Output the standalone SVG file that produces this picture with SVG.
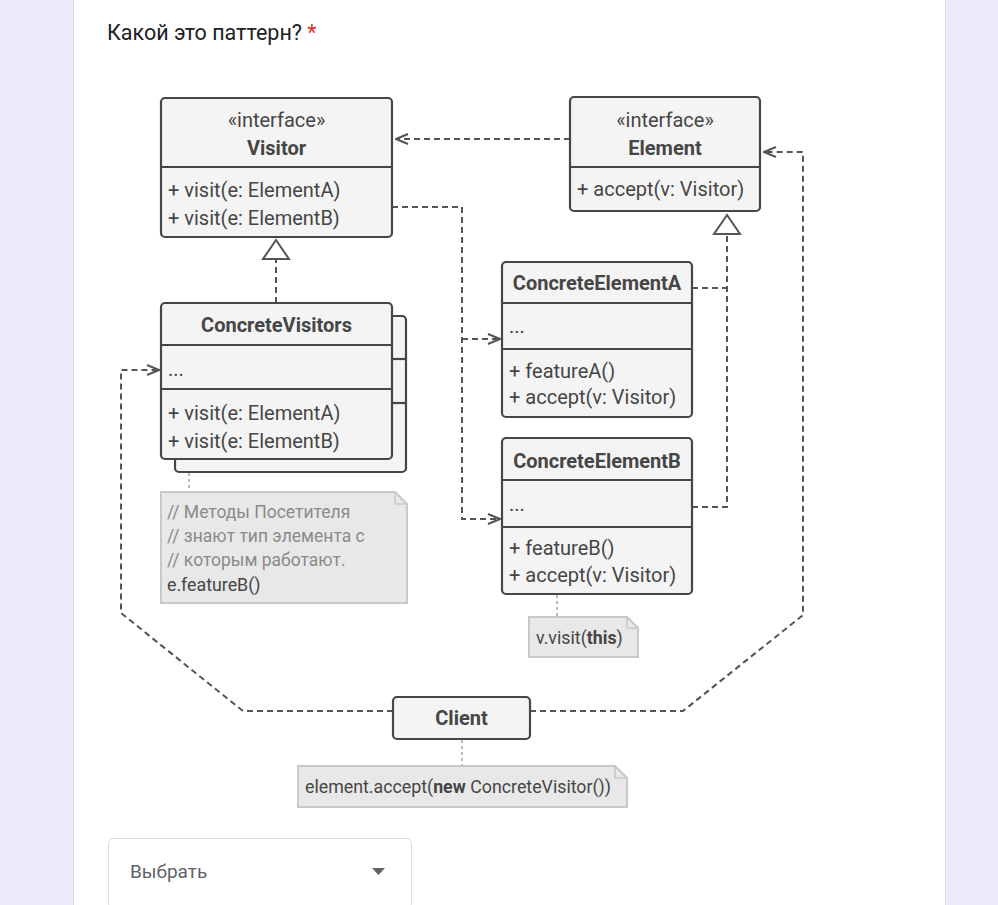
<svg xmlns="http://www.w3.org/2000/svg" width="998" height="905" viewBox="0 0 998 905">
<style>
.box{fill:#f4f4f4;stroke:#464646;stroke-width:2.2}
.div{stroke:#464646;stroke-width:2.2}
.t{font-family:Roboto,"Noto Sans",sans-serif;font-size:20px;fill:#464646}
.b{font-weight:bold}
.c{text-anchor:middle}
.dash{fill:none;stroke:#555;stroke-width:2;stroke-dasharray:6,4}
.tri{fill:#fff;stroke:#555;stroke-width:2}
.note{fill:#e8e8e8;stroke:#c8c8c8;stroke-width:2}
.fold{fill:none;stroke:#c8c8c8;stroke-width:1.5}
.nt{font-family:Roboto,"Noto Sans",sans-serif;font-size:17.5px;fill:#8a8a8a}
.nc{font-family:Roboto,"Noto Sans",sans-serif;font-size:17.8px;fill:#464646}
.dot{fill:none;stroke:#bbb;stroke-width:2;stroke-dasharray:3,3}
</style>
<defs>
<marker id="arr" viewBox="0 0 14 12" refX="13" refY="6" markerWidth="14" markerHeight="12" markerUnits="userSpaceOnUse" orient="auto">
<path d="M1,1 L13,6 L1,11" fill="none" stroke="#555" stroke-width="2"/>
</marker>
</defs>
<rect width="998" height="905" fill="#ede9f8"/>
<rect x="73.5" y="-2" width="872" height="910" fill="#fff" stroke="#dcdae6" stroke-width="1"/>
<g id="title">
<text x="107" y="40" font-family="Roboto,'Noto Sans',sans-serif" font-size="21.5" fill="#202124">Какой это паттерн? <tspan fill="#d93025">*</tspan></text>
</g>

<g id="connectors">
<path class="dash" d="M570,139 H396" marker-end="url(#arr)"/>
<path class="dash" d="M392,207 H462 V519 H500" marker-end="url(#arr)"/>
<path class="dash" d="M462,339 H500" marker-end="url(#arr)"/>
<path class="dash" d="M692,288 H727"/>
<path class="dash" d="M692,507 H727 V234"/>
<path class="dash" d="M276,303 V259"/>
<path class="dash" d="M393,711 H243 L121,613 V370 H159" marker-end="url(#arr)"/>
<path class="dash" d="M530,711 H683 L803,615 V152 H764" marker-end="url(#arr)"/>
<polygon class="tri" points="276,240 263,259 289,259"/>
<polygon class="tri" points="727,215 714,234 740,234"/>
<path class="dot" d="M189,473 V492"/>
<path class="dot" d="M557,595 V617"/>
<path class="dot" d="M462,740 V766"/>
</g>

<g id="visitor">
<rect class="box" x="161" y="98" width="231" height="139" rx="4"/>
<line class="div" x1="161" y1="167" x2="392" y2="167"/>
<text class="t c" x="276.5" y="127">«interface»</text>
<text class="t c b" x="276.5" y="155">Visitor</text>
<text class="t" x="168" y="197">+ visit(e: ElementA)</text>
<text class="t" x="168" y="225">+ visit(e: ElementB)</text>
</g>

<g id="element">
<rect class="box" x="570" y="97" width="190" height="114" rx="4"/>
<line class="div" x1="570" y1="167" x2="760" y2="167"/>
<text class="t c" x="665" y="127">«interface»</text>
<text class="t c b" x="665" y="155">Element</text>
<text class="t" x="577" y="196">+ accept(v: Visitor)</text>
</g>

<g id="concrete-visitors">
<rect class="box" x="175" y="316" width="231" height="156" rx="4"/>
<line class="div" x1="392" y1="359" x2="406" y2="359"/>
<line class="div" x1="392" y1="403" x2="406" y2="403"/>
<rect class="box" x="161" y="303" width="231" height="156" rx="4"/>
<line class="div" x1="161" y1="345" x2="392" y2="345"/>
<line class="div" x1="161" y1="389" x2="392" y2="389"/>
<text class="t c b" x="276.5" y="332">ConcreteVisitors</text>
<text class="t" x="168" y="376">...</text>
<text class="t" x="168" y="420">+ visit(e: ElementA)</text>
<text class="t" x="168" y="448">+ visit(e: ElementB)</text>
</g>

<g id="note-visitors">
<path class="note" d="M161,492 H395 L407,504 V603 H161 Z"/>
<path class="fold" d="M395,492 V504 H407"/>
<text class="nt" x="167" y="518">// Методы Посетителя</text>
<text class="nt" x="167" y="542">// знают тип элемента с</text>
<text class="nt" x="167" y="566">// которым работают.</text>
<text class="nc" x="167" y="591">e.featureB()</text>
</g>

<g id="concrete-element-a">
<rect class="box" x="502" y="262" width="190" height="155" rx="4"/>
<line class="div" x1="502" y1="303" x2="692" y2="303"/>
<line class="div" x1="502" y1="349" x2="692" y2="349"/>
<text class="t c b" x="597" y="290">ConcreteElementA</text>
<text class="t" x="509" y="333">...</text>
<text class="t" x="509" y="378">+ featureA()</text>
<text class="t" x="509" y="404">+ accept(v: Visitor)</text>
</g>

<g id="concrete-element-b">
<rect class="box" x="502" y="438" width="190" height="156" rx="4"/>
<line class="div" x1="502" y1="480" x2="692" y2="480"/>
<line class="div" x1="502" y1="527" x2="692" y2="527"/>
<text class="t c b" x="597" y="468">ConcreteElementB</text>
<text class="t" x="509" y="511">...</text>
<text class="t" x="509" y="555">+ featureB()</text>
<text class="t" x="509" y="582">+ accept(v: Visitor)</text>
</g>

<g id="note-visit">
<path class="note" d="M529,617 H627 L638,628 V657 H529 Z"/>
<path class="fold" d="M627,617 V628 H638"/>
<text class="nc" x="536" y="644">v.visit(<tspan font-weight="bold">this</tspan>)</text>
</g>

<g id="client">
<rect class="box" x="393" y="697" width="137" height="42" rx="4"/>
<text class="t c b" x="461.5" y="725">Client</text>
</g>

<g id="note-client">
<path class="note" d="M298,766 H615 L627,778 V807 H298 Z"/>
<path class="fold" d="M615,766 V778 H627"/>
<text class="nc" x="305" y="793">element.accept(<tspan font-weight="bold">new</tspan> ConcreteVisitor())</text>
</g>

<g id="dropdown">
<rect x="108.5" y="838.5" width="303" height="70" rx="5" fill="#fff" stroke="#dadce0" stroke-width="1"/>
<text x="130" y="878" font-family="Roboto,'Noto Sans',sans-serif" font-size="19" fill="#5f6368">Выбрать</text>
<polygon points="372,868 385,868 378.5,875" fill="#5f6368"/>
</g>
</svg>
